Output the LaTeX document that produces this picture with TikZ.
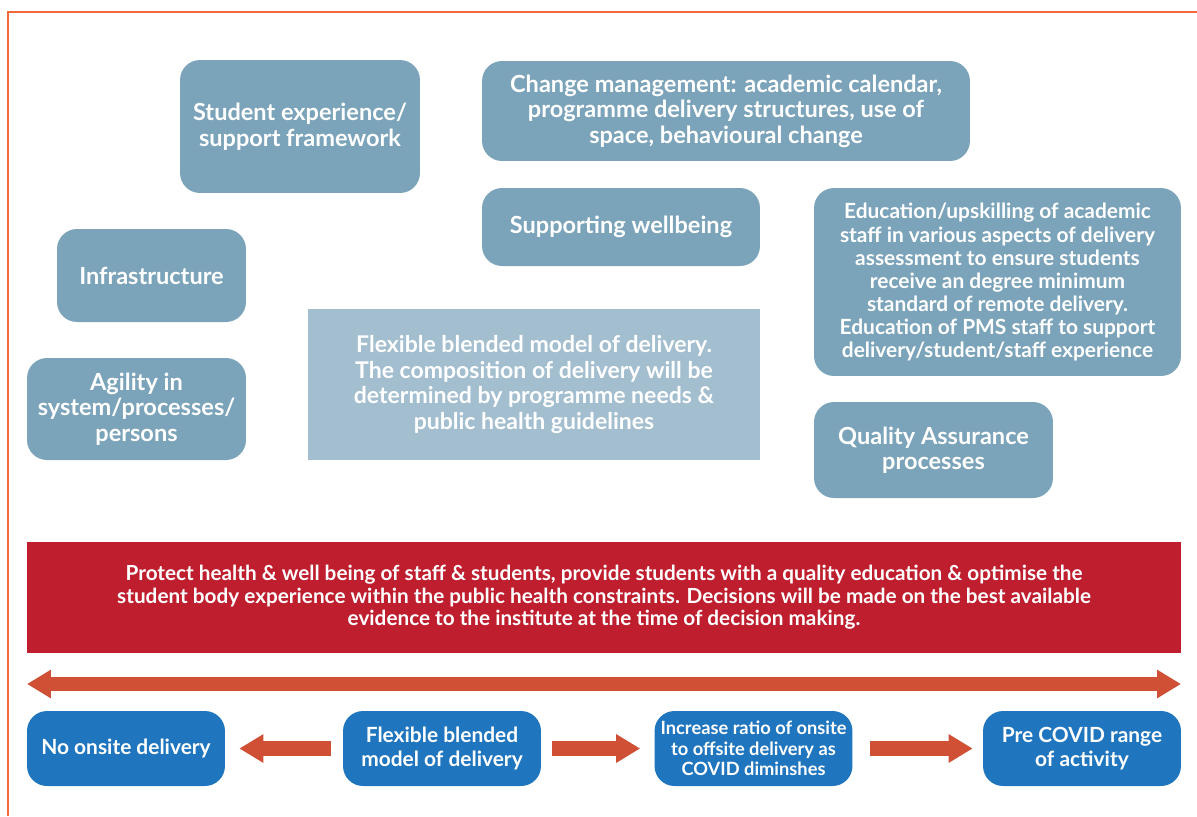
\documentclass[tikz,border=0pt]{standalone}
\usepackage{fontspec}
\setmainfont{Lato}
\usepackage{tikz}
\usetikzlibrary{positioning}
\usetikzlibrary{arrows.meta}
\definecolor{framecol}{HTML}{F26A3A}
\definecolor{steel}{HTML}{7BA3B9}
\definecolor{palesteel}{HTML}{A3BECF}
\definecolor{bandred}{HTML}{BE1E2D}
\definecolor{arrowred}{HTML}{CF5035}
\definecolor{stageblue}{HTML}{1F75BE}

\begin{document}
\begin{tikzpicture}[x=0.02cm, y=-0.02cm,
  topbox/.style={fill=steel, rounded corners=0.4cm, align=center, text=white,
    font=\fontsize{13.4}{14.5}\selectfont\bfseries},
  centrebox/.style={fill=palesteel, align=center, text=white,
    font=\fontsize{13.1}{14.5}\selectfont\bfseries},
  bandbox/.style={fill=bandred, align=center, text=white,
    font=\fontsize{11.8}{12.8}\selectfont\bfseries},
  stagebox/.style={fill=stageblue, rounded corners=0.4cm, align=center, text=white,
    minimum width=3.96cm, minimum height=1.5cm,
    font=\fontsize{11.9}{14}\selectfont\bfseries},
  flowarrow/.style={draw=arrowred, line width=0.29cm, line cap=butt,
    -{Triangle[width=0.54cm,length=0.48cm]}}]
\useasboundingbox (0,0) rectangle (1197,816);
\draw[framecol, line width=0.05cm] (8,816) -- (8,12) -- (1197,12);

\node(student)[topbox, minimum width=4.8cm, minimum height=2.66cm] at (300,126.5) {Student experience/\\support framework};
\node(change)[topbox, minimum width=9.76cm, minimum height=2cm] at (726,111) {Change management: academic calendar,\\programme delivery structures, use of\\space, behavioural change};
\node(wellbeing)[topbox, minimum width=5.56cm, minimum height=1.56cm] at (621,227) {Supporting wellbeing};
\node(infra)[topbox, minimum width=3.78cm, minimum height=1.86cm] at (151.5,275.5) {Infrastructure};
\node(agility)[topbox, minimum width=4.38cm, minimum height=2.04cm] at (136.5,409) {Agility in\\system/processes/\\persons};
\node(model)[centrebox, minimum width=9.04cm, minimum height=3.02cm] at (534,384.5) {Flexible blended model of delivery.\\The composition of delivery will be\\determined by programme needs \&\\public health guidelines};
\node(educ)[topbox, minimum width=7.34cm, minimum height=3.76cm, font=\fontsize{11.9}{13.1}\selectfont\bfseries] at (997.5,282) {Education/upskilling of academic\\staff in various aspects of delivery\\assessment to ensure students\\receive an degree minimum\\standard of remote delivery.\\Education of PMS staff to support\\delivery/student/staff experience};
\node(quality)[topbox, minimum width=4.78cm, minimum height=1.92cm] at (933.5,450) {Quality Assurance\\processes};

\node(band)[bandbox, minimum width=23.08cm, minimum height=2.22cm] at (604,597.5) {Protect health \& well being of staff \& students, provide students with a quality education \& optimise the\\student body experience within the public health constraints. Decisions will be made on the best available\\evidence to the institute at the time of decision making.};

\coordinate(lowend) at (27,684);
\coordinate(highend) at (1181,684);
\draw[flowarrow, {Triangle[width=0.54cm,length=0.48cm]}-{Triangle[width=0.54cm,length=0.48cm]}] (lowend) -- (highend);

\node(none)[stagebox] at (126,748.5) {No onsite delivery};
\node(flex)[stagebox] at (442,748.5) {Flexible blended\\model of delivery};
\node(ratio)[stagebox, font=\fontsize{10.4}{11.6}\selectfont\bfseries] at (753.5,748.5) {Increase ratio of onsite\\to offsite delivery as\\COVID diminshes};
\node(pre)[stagebox] at (1082,748.5) {Pre COVID range\\of activity};

\draw[flowarrow, shorten <=0.24cm, shorten >=0.28cm] (flex) -- (none);
\draw[flowarrow, shorten <=0.22cm, shorten >=0.28cm] (flex) -- (ratio);
\draw[flowarrow, shorten <=0.34cm, shorten >=0.2cm] (ratio) -- (pre);
\end{tikzpicture}
\end{document}
